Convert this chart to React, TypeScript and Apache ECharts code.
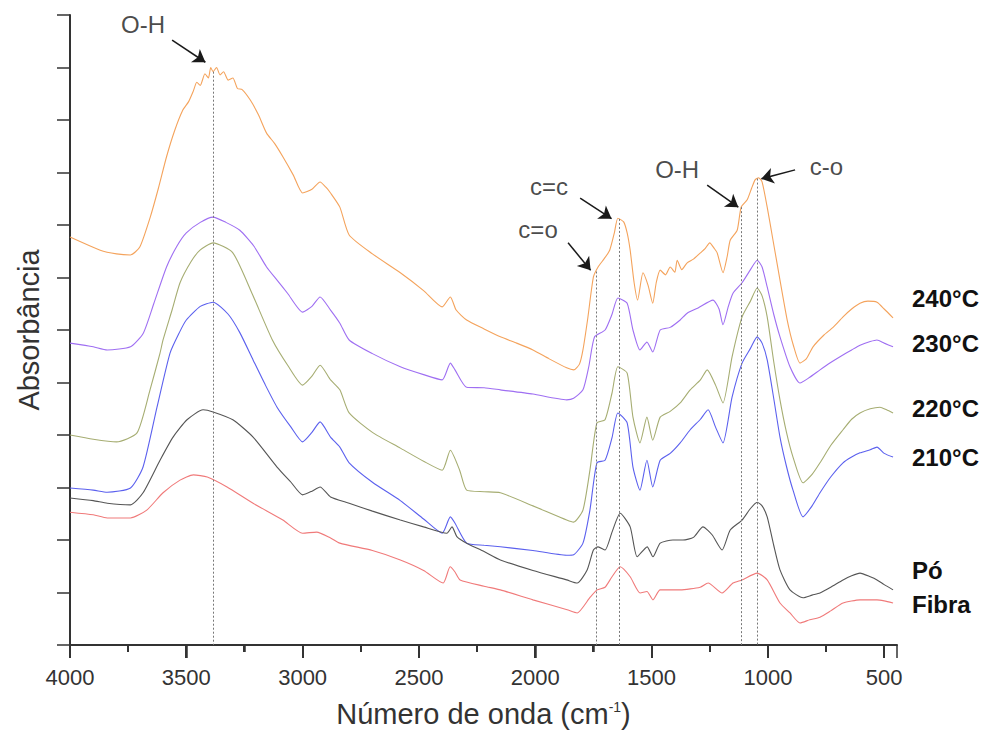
import React, { useEffect, useRef } from "react";
import * as echarts from "echarts";

// ---- data ----
const xTickValues = [4000, 3500, 3000, 2500, 2000, 1500, 1000, 500];
const xMinorTickValues = [3750, 3250, 2750, 2250, 1750, 1250, 750];
const seriesNames = ["240°C", "230°C", "220°C", "210°C", "Pó", "Fibra"];

const s240: [number, number][] = [
  [4000, 7.77], [3870, 7.52], [3800, 7.45], [3740, 7.43], [3700, 7.58], [3655, 8.15], [3620, 8.7], [3585, 9.3],
  [3550, 9.8], [3515, 10.19], [3490, 10.35], [3470, 10.55], [3455, 10.72], [3440, 10.66], [3420, 10.88], [3405, 10.8],
  [3395, 11.0], [3385, 10.92], [3370, 11.0], [3355, 10.86], [3340, 10.92], [3320, 10.76], [3300, 10.8], [3280, 10.6],
  [3260, 10.58], [3225, 10.38], [3190, 10.1], [3155, 9.75], [3120, 9.55], [3085, 9.3], [3040, 8.95], [3000, 8.61],
  [2960, 8.68], [2925, 8.82], [2900, 8.72], [2880, 8.61], [2840, 8.34], [2800, 7.81], [2700, 7.45], [2580, 7.09],
  [2480, 6.75], [2400, 6.44], [2365, 6.63], [2340, 6.38], [2295, 6.19], [2220, 6.02], [2150, 5.87], [2080, 5.75],
  [2010, 5.62], [1940, 5.45], [1865, 5.28], [1835, 5.24], [1810, 5.35], [1795, 5.62], [1775, 6.2], [1750, 7.01],
  [1730, 7.2], [1705, 7.35], [1680, 7.52], [1660, 7.85], [1645, 8.13], [1620, 8.06], [1605, 7.85], [1592, 7.52],
  [1575, 6.9], [1560, 6.57], [1537, 7.09], [1515, 6.85], [1495, 6.51], [1480, 6.9], [1463, 7.14], [1440, 7.05],
  [1420, 7.2], [1400, 7.1], [1390, 7.33], [1370, 7.15], [1347, 7.28], [1320, 7.35], [1290, 7.47], [1270, 7.55],
  [1250, 7.66], [1230, 7.55], [1218, 7.47], [1193, 7.09], [1175, 7.4], [1162, 7.71], [1132, 7.9], [1115, 8.34],
  [1089, 8.48], [1070, 8.7], [1055, 8.86], [1040, 8.9], [1025, 8.82], [1003, 8.34], [978, 7.71], [948, 6.95],
  [917, 6.19], [890, 5.7], [862, 5.37], [835, 5.45], [806, 5.68], [760, 5.9], [720, 6.05], [677, 6.25],
  [640, 6.4], [604, 6.51], [570, 6.55], [531, 6.53], [500, 6.4], [462, 6.23],
];

const s230: [number, number][] = [
  [4000, 5.75], [3900, 5.68], [3840, 5.62], [3740, 5.68], [3685, 5.94], [3640, 6.5], [3585, 7.2], [3540, 7.6],
  [3500, 7.85], [3440, 8.05], [3385, 8.15], [3330, 8.05], [3270, 7.9], [3210, 7.6], [3155, 7.2], [3110, 6.95],
  [3065, 6.7], [3000, 6.34], [2960, 6.45], [2925, 6.63], [2880, 6.38], [2840, 6.13], [2800, 5.81], [2700, 5.55],
  [2580, 5.3], [2480, 5.15], [2400, 5.05], [2365, 5.37], [2345, 5.24], [2295, 4.91], [2220, 4.9], [2150, 4.86],
  [2010, 4.78], [1865, 4.67], [1835, 4.7], [1795, 4.86], [1770, 5.3], [1745, 5.87], [1700, 6.0], [1670, 6.3],
  [1645, 6.61], [1605, 6.51], [1580, 6.0], [1550, 5.62], [1520, 5.77], [1495, 5.58], [1463, 6.0], [1420, 6.05],
  [1377, 6.19], [1347, 6.32], [1300, 6.42], [1236, 6.57], [1210, 6.4], [1193, 6.1], [1170, 6.45], [1150, 6.7],
  [1111, 6.9], [1075, 7.15], [1046, 7.33], [1025, 7.2], [1003, 6.82], [975, 6.3], [948, 5.87], [905, 5.3],
  [862, 4.99], [820, 5.1], [776, 5.24], [730, 5.38], [690, 5.49], [640, 5.62], [604, 5.71], [560, 5.78],
  [531, 5.81], [500, 5.75], [462, 5.68],
];

const s220: [number, number][] = [
  [4000, 4.0], [3900, 3.92], [3800, 3.87], [3712, 4.04], [3656, 4.86], [3613, 5.56], [3600, 5.81], [3560, 6.4],
  [3527, 6.9], [3480, 7.3], [3441, 7.52], [3385, 7.66], [3300, 7.47], [3215, 6.67], [3130, 5.81], [3060, 5.3],
  [3000, 4.95], [2960, 5.12], [2925, 5.33], [2880, 5.05], [2840, 4.86], [2800, 4.42], [2700, 4.05], [2580, 3.75],
  [2480, 3.5], [2400, 3.33], [2365, 3.71], [2325, 3.33], [2295, 2.95], [2220, 2.92], [2150, 2.9], [2010, 2.65],
  [1865, 2.38], [1835, 2.34], [1795, 2.57], [1765, 3.33], [1735, 4.23], [1700, 4.29], [1670, 4.8], [1645, 5.3],
  [1605, 5.18], [1580, 4.34], [1550, 3.85], [1520, 4.34], [1495, 3.9], [1463, 4.34], [1420, 4.45], [1377, 4.61],
  [1334, 4.86], [1290, 5.05], [1261, 5.24], [1225, 4.95], [1193, 4.61], [1154, 5.49], [1111, 6.25], [1075, 6.55],
  [1046, 6.8], [1025, 6.65], [1003, 6.25], [975, 5.4], [948, 4.67], [920, 4.05], [892, 3.58], [849, 3.09],
  [810, 3.25], [776, 3.47], [730, 3.8], [677, 4.1], [640, 4.3], [604, 4.42], [560, 4.5], [518, 4.53],
  [490, 4.48], [462, 4.42],
];

const s210: [number, number][] = [
  [4000, 2.99], [3900, 2.95], [3840, 2.91], [3740, 2.99], [3686, 3.39], [3626, 4.53], [3570, 5.56], [3530, 5.95],
  [3500, 6.19], [3440, 6.45], [3385, 6.53], [3320, 6.3], [3270, 5.95], [3213, 5.43], [3160, 4.95], [3110, 4.53],
  [3050, 4.15], [3000, 3.87], [2960, 4.05], [2925, 4.25], [2880, 3.96], [2840, 3.77], [2800, 3.47], [2700, 3.1],
  [2580, 2.75], [2480, 2.4], [2400, 2.13], [2365, 2.44], [2345, 2.32], [2295, 1.94], [2220, 1.9], [2150, 1.87],
  [2010, 1.8], [1865, 1.71], [1835, 1.72], [1795, 1.94], [1765, 2.57], [1735, 3.47], [1700, 3.52], [1670, 3.95],
  [1645, 4.42], [1605, 4.23], [1580, 3.39], [1550, 2.95], [1520, 3.52], [1495, 3.01], [1463, 3.52], [1420, 3.65],
  [1377, 3.85], [1334, 4.1], [1290, 4.3], [1257, 4.48], [1225, 4.15], [1193, 3.85], [1154, 4.72], [1111, 5.37],
  [1075, 5.65], [1046, 5.87], [1025, 5.75], [1003, 5.43], [975, 4.7], [948, 3.96], [920, 3.4], [892, 2.95],
  [849, 2.44], [810, 2.65], [776, 2.9], [730, 3.2], [677, 3.47], [640, 3.58], [604, 3.66], [560, 3.72],
  [531, 3.77], [500, 3.65], [462, 3.58],
];

const sPo: [number, number][] = [
  [4000, 2.8], [3900, 2.75], [3840, 2.7], [3740, 2.67], [3686, 2.9], [3613, 3.52], [3557, 3.96], [3497, 4.29],
  [3428, 4.48], [3385, 4.44], [3300, 4.29], [3213, 3.96], [3110, 3.39], [3050, 3.1], [3000, 2.86], [2960, 2.93],
  [2925, 3.01], [2880, 2.82], [2800, 2.7], [2700, 2.55], [2580, 2.38], [2480, 2.25], [2380, 2.13], [2358, 2.25],
  [2336, 2.06], [2295, 1.94], [2220, 1.78], [2150, 1.62], [2010, 1.42], [1865, 1.24], [1820, 1.18], [1777, 1.43],
  [1750, 1.81], [1730, 1.87], [1700, 1.81], [1670, 2.15], [1635, 2.51], [1592, 2.25], [1562, 1.68], [1519, 1.87],
  [1494, 1.68], [1463, 1.94], [1408, 2.0], [1365, 2.0], [1320, 2.05], [1279, 2.25], [1240, 2.1], [1197, 1.81],
  [1162, 2.19], [1111, 2.38], [1075, 2.6], [1046, 2.72], [1025, 2.65], [1003, 2.44], [975, 1.9], [948, 1.43],
  [905, 1.05], [849, 0.9], [810, 0.95], [776, 0.99], [730, 1.1], [677, 1.24], [640, 1.32], [604, 1.37],
  [560, 1.3], [531, 1.24], [500, 1.15], [462, 1.05],
];

const sFibra: [number, number][] = [
  [4000, 2.53], [3900, 2.48], [3840, 2.42], [3740, 2.42], [3670, 2.57], [3600, 2.9], [3527, 3.14], [3470, 3.24],
  [3410, 3.2], [3325, 3.01], [3213, 2.7], [3085, 2.38], [3000, 2.13], [2940, 2.15], [2880, 2.04], [2840, 1.94],
  [2700, 1.8], [2580, 1.62], [2480, 1.42], [2396, 1.18], [2366, 1.49], [2345, 1.39], [2323, 1.24], [2220, 1.12],
  [2150, 1.05], [2010, 0.86], [1863, 0.67], [1820, 0.61], [1764, 0.91], [1734, 1.05], [1700, 1.1], [1670, 1.3],
  [1635, 1.49], [1592, 1.3], [1549, 0.99], [1520, 1.02], [1494, 0.86], [1463, 1.05], [1377, 1.05], [1291, 1.1],
  [1257, 1.18], [1197, 0.99], [1150, 1.18], [1111, 1.24], [1046, 1.37], [1003, 1.24], [948, 0.8], [905, 0.61],
  [862, 0.42], [820, 0.48], [776, 0.53], [730, 0.65], [677, 0.8], [604, 0.86], [531, 0.86], [500, 0.84],
  [462, 0.8],
];

const seriesData = [s240, s230, s220, s210, sPo, sFibra];
const peakLines = [3385, 1739, 1640, 1115, 1046];
const annotationTexts = ["O-H", "c=c", "c=o", "O-H", "c-o"];
const annotationLabelAt: [number, number][] = [[3686, 11.81], [1941, 8.74], [1988, 7.91], [1390, 9.05], [748, 9.12]];
const arrowFrom: [number, number][] = [[3561, 11.52], [1807, 8.51], [1859, 7.66], [1261, 8.76], [883, 9.05]];
const arrowTo: [number, number][] = [[3418, 11.1], [1672, 8.12], [1762, 7.14], [1127, 8.34], [1028, 8.88]];

// ---- layout / styles ----
const X_MIN = 445;
const X_MAX = 4000;
const GRID = { left: 70, right: 94, top: 15, bottom: 104 };
const WIDTH = 991;
const HEIGHT = 749;
const colors = ["#f4a35c", "#9f6ff2", "#a6ad72", "#5b60ee", "#555555", "#f07a7a"];
const legendY = [298, 343, 408, 457, 570, 604];
const FONT = "Arial, 'Liberation Sans', Helvetica, sans-serif";
const AXIS_COLOR = "#333";
const MAJOR_TICK = 13;
const MINOR_TICK = 7;

function interp(data: [number, number][], x: number): number {
  for (let i = 0; i < data.length - 1; i++) {
    const [x0, y0] = data[i];
    const [x1, y1] = data[i + 1];
    if ((x <= x0 && x >= x1) || (x >= x0 && x <= x1)) {
      const t = (x - x0) / (x1 - x0);
      return y0 + t * (y1 - y0);
    }
  }
  return data[data.length - 1][1];
}

export default function App() {
  const ref = useRef<HTMLDivElement>(null);
  useEffect(() => {
    if (!ref.current) return;
    const chart = echarts.init(ref.current, undefined, { renderer: "svg" });
    const lineSeries: any[] = seriesData.map((d, i) => ({
      name: seriesNames[i],
      type: "line",
      data: d,
      showSymbol: false,
      symbol: "none",
      silent: true,
      smooth: 0.2,
      clip: false,
      lineStyle: { color: colors[i], width: 1.1 },
      z: 3,
    }));
    lineSeries[0].markLine = {
      silent: true,
      animation: false,
      symbol: ["none", "none"],
      label: { show: false },
      lineStyle: { color: "#777", type: [2, 2], width: 1 },
      data: peakLines.map((w) => [{ coord: [w, interp(s240, w)] }, { coord: [w, 0] }]),
    };
    const annotationSeries = {
      type: "scatter",
      silent: true,
      clip: false,
      symbolSize: 1,
      itemStyle: { color: "rgba(255,255,255,0)" },
      data: annotationTexts.map((t, i) => ({ name: t, value: annotationLabelAt[i] })),
      label: {
        show: true,
        position: "inside",
        formatter: "{b}",
        fontSize: 24,
        color: "#1a1a1a",
        fontFamily: FONT,
      },
      markLine: {
        silent: true,
        animation: false,
        symbol: ["none", "arrow"],
        symbolSize: 12,
        label: { show: false },
        lineStyle: { color: "#1a1a1a", width: 1.5, type: "solid" },
        data: arrowFrom.map((f, i) => [{ coord: f }, { coord: arrowTo[i] }]),
      },
      z: 5,
    };
    const legendGraphics: any[] = seriesNames.map((n, i) => ({
      type: "text",
      x: 912,
      y: legendY[i],
      style: {
        text: n,
        fontSize: 24,
        fontWeight: "bold",
        fontFamily: FONT,
        fill: "#111",
        verticalAlign: "middle",
        align: "left",
      },
    }));
    // x-axis tick marks, placed with the same linear mapping as the axis, on their own layer
    const plotW = WIDTH - GRID.left - GRID.right;
    const axisY = HEIGHT - GRID.bottom;
    const xToPx = (v: number) => GRID.left + ((X_MAX - v) / (X_MAX - X_MIN)) * plotW;
    const tickGraphics: any[] = [
      ...xTickValues.map((v) => [v, MAJOR_TICK]),
      ...xMinorTickValues.map((v) => [v, MINOR_TICK]),
    ].map(([v, len]) => ({
      type: "rect",
      zlevel: 1,
      z: 200,
      shape: { x: Math.round(xToPx(v)) - 1, y: axisY, width: 2, height: len },
      style: { fill: AXIS_COLOR },
    }));

    chart.setOption({
      animation: false,
      grid: { ...GRID },
      xAxis: {
        type: "value",
        min: X_MIN,
        max: X_MAX,
        splitNumber: 7,
        inverse: true,
        splitLine: { show: false },
        name: "Número de onda (cm{sup|-1})",
        nameLocation: "middle",
        nameGap: 54,
        nameTextStyle: {
          fontSize: 29,
          color: "#333",
          fontFamily: FONT,
          rich: { sup: { fontSize: 14, color: "#333", fontFamily: FONT, padding: [0, 0, 14, 0] } },
        },
        axisLine: { show: true, lineStyle: { color: AXIS_COLOR, width: 2 } },
        axisTick: { show: true, length: MAJOR_TICK, lineStyle: { color: AXIS_COLOR, width: 1.5 } },
        minorTick: { show: true, splitNumber: 2, length: MINOR_TICK, lineStyle: { color: AXIS_COLOR, width: 1.5 } },
        axisLabel: {
          show: true,
          formatter: (v: number) => (xTickValues.indexOf(v) >= 0 ? String(v) : ""),
          margin: 21,
          fontSize: 22,
          color: "#333",
          fontFamily: FONT,
        },
      },
      yAxis: {
        type: "value",
        min: 0,
        max: 12,
        interval: 1,
        name: "Absorbância",
        nameLocation: "middle",
        nameGap: 27,
        nameRotate: 90,
        nameTextStyle: { fontSize: 29, color: "#333", fontFamily: FONT },
        splitLine: { show: false },
        axisLine: { show: true, lineStyle: { color: AXIS_COLOR, width: 2 } },
        axisTick: { show: true, length: MAJOR_TICK, lineStyle: { color: AXIS_COLOR, width: 1.5 } },
        axisLabel: { show: false },
      },
      series: [...lineSeries, annotationSeries],
      graphic: [...legendGraphics, ...tickGraphics],
    });
    return () => chart.dispose();
  }, []);
  return (
    <div
      ref={ref}
      style={{ position: "fixed", left: 0, top: 0, width: WIDTH, height: HEIGHT, background: "#fff" }}
    />
  );
}
